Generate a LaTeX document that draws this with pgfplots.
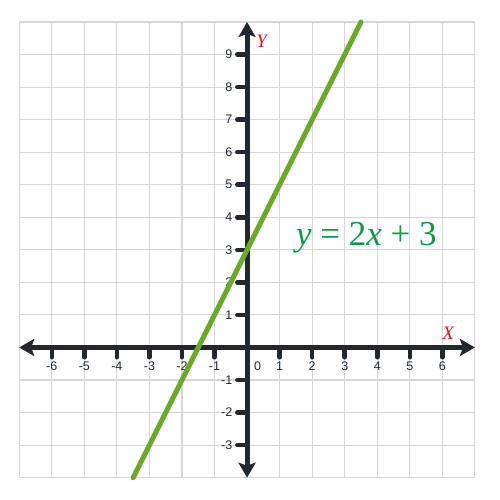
\documentclass[border=0pt]{standalone}
\usepackage{pgfplots}
\pgfplotsset{compat=1.18}
\usetikzlibrary{arrows.meta}
\usepackage{fontspec}
\newfontfamily\arialf{Liberation Sans}
\newfontfamily\timesf{Liberation Serif}
\definecolor{axdark}{HTML}{22282E}
\definecolor{lgreen}{HTML}{6AAA2B}
\definecolor{eqgreen}{HTML}{10994A}
\definecolor{lred}{HTML}{E8141C}
\definecolor{gridc}{HTML}{D9D6D9}
\begin{document}
\begin{tikzpicture}
\begin{axis}[
  scale only axis, width=456pt, height=456pt,
  xmin=-7, xmax=7, ymin=-4, ymax=10,
  xtick={-7,...,7}, ytick={-4,...,10},
  xticklabels={}, yticklabels={},
  axis line style={draw=none},
  tick style={draw=none},
  grid=major,
  major grid style={color=gridc, line width=1.1pt},
  clip=false,
]
% bounding box
\path (axis cs:-7.59,-4.675) rectangle (axis cs:7.77,10.675);
% axes
\draw[axdark, line width=5pt, {Stealth[length=15pt,width=17pt,inset=3pt]}-{Stealth[length=15pt,width=17pt,inset=3pt]}] (axis cs:-7,0) -- (axis cs:7,0);
\draw[axdark, line width=5pt, {Stealth[length=15pt,width=17pt,inset=3pt]}-{Stealth[length=15pt,width=17pt,inset=3pt]}] (axis cs:0,-4) -- (axis cs:0,10);
% ticks
\pgfplotsinvokeforeach{-6,-5,-4,-3,-2,-1,1,2,3,4,5,6}{
  \draw[axdark, line width=4.5pt, line cap=round] (axis cs:#1,0) -- (axis cs:#1,-0.3);
  \node[font=\arialf\fontsize{12.5}{12.5}\selectfont, text=axdark, anchor=base] at (axis cs:#1,-0.72) {#1};
}
\pgfplotsinvokeforeach{-3,-2,-1,1,2,3,4,5,6,7,8,9}{
  \draw[axdark, line width=4.5pt, line cap=round] (axis cs:0,#1) -- (axis cs:-0.3,#1);
  \node[font=\arialf\fontsize{12.5}{12.5}\selectfont, text=axdark, anchor=east, inner sep=1pt] at (axis cs:-0.42,#1) {#1};
}
\node[font=\arialf\fontsize{12.5}{12.5}\selectfont, text=axdark, anchor=base] at (axis cs:0.32,-0.72) {0};
% line
\addplot[lgreen, line width=5pt, line cap=round] coordinates {(-3.5,-4) (3.5,10)};
% labels
\node[font=\timesf\itshape\fontsize{19}{19}\selectfont, text=lred] at (axis cs:6.18,0.45) {X};
\node[font=\timesf\itshape\fontsize{19}{19}\selectfont, text=lred] at (axis cs:0.45,9.4) {Y};
\node[font=\timesf\fontsize{35}{35}\selectfont, text=eqgreen, anchor=base west, inner sep=0pt] at (axis cs:1.5,3.13) {{\itshape y} = 2{\itshape x} + 3};
\end{axis}
\end{tikzpicture}
\end{document}
